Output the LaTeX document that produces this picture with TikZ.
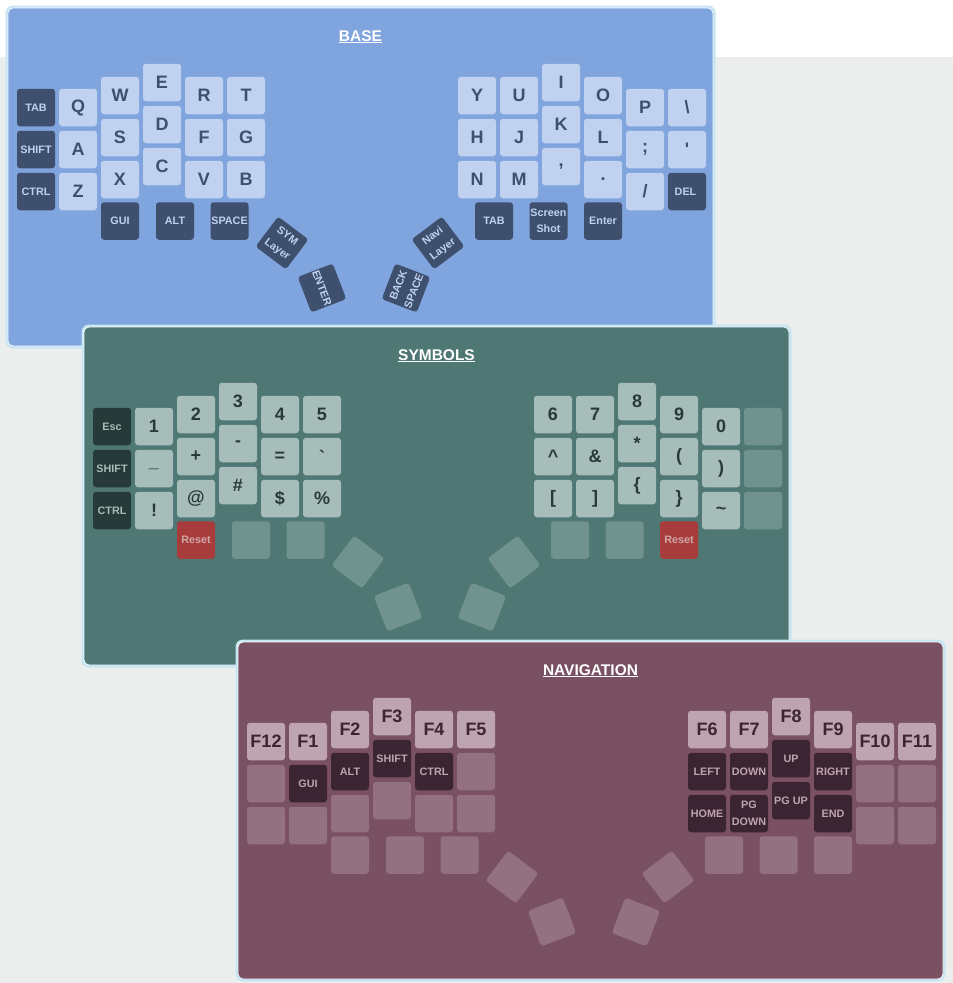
\documentclass[tikz,border=0pt]{standalone}
\usepackage{fontspec}
\setmainfont{Liberation Sans}
\usepackage{tikz}
\definecolor{pagegrey}{HTML}{ECEEED}
\definecolor{glowc}{HTML}{C6E6F3}
\definecolor{basebg}{HTML}{80A4DD}
\definecolor{baselight}{HTML}{C0D2EF}
\definecolor{basedark}{HTML}{3F506E}
\definecolor{symbg}{HTML}{4F7874}
\definecolor{symlight}{HTML}{A6BDBA}
\definecolor{symdark}{HTML}{263B39}
\definecolor{symblank}{HTML}{71938F}
\definecolor{symreset}{HTML}{A83C3C}
\definecolor{symresettext}{HTML}{CFA7A6}
\definecolor{navbg}{HTML}{7A5063}
\definecolor{navlight}{HTML}{BEA4B0}
\definecolor{navdark}{HTML}{3C2532}
\definecolor{navblank}{HTML}{94717F}

\tikzset{
  key/.style={rectangle, rounded corners=3pt, minimum width=38pt, minimum height=37.5pt, inner sep=0pt, align=center},
  big/.style={font=\fontsize{18}{18}\selectfont\bfseries},
  small/.style={font=\fontsize{10.8}{16.5}\selectfont\bfseries},
  glow/.style={draw=glowc, line width=3pt, rounded corners=6pt},
  panel/.style={draw=white!80!glowc, line width=0.8pt, rounded corners=5pt},
  title/.style={anchor=base, text=white, font=\fontsize{15.5}{16}\selectfont\bfseries}
}

\begin{document}
\begin{tikzpicture}[x=1pt, y=-1pt]
    \useasboundingbox (0,0) rectangle (953,983);
    \fill[white] (0,0) rectangle (953,983);
    \fill[pagegrey] (0,57) rectangle (953,983);

    % base layer
    \begin{scope}[shift={(8,8)},
        lk/.style={key, big, fill=baselight, text=basedark},
        dk/.style={key, small, fill=basedark, text=baselight}]
        \draw[glow] (-1,-1) rectangle (706,339);
        \draw[panel, fill=basebg] (0,0) rectangle (705,338);
        \node[title] (base-title) at (352.5,33) {\underline{BASE}};

        \foreach \x/\y/\sa/\ta/\sb/\tb/\sc/\tc [count=\i] in {
            28/99.5/dk/TAB/dk/SHIFT/dk/CTRL,
            70/99.5/lk/Q/lk/A/lk/Z,
            112/87.5/lk/W/lk/S/lk/X,
            154/74.5/lk/E/lk/D/lk/C,
            196/87.5/lk/R/lk/F/lk/V,
            238/87.5/lk/T/lk/G/lk/B,
            469/87.5/lk/Y/lk/H/lk/N,
            511/87.5/lk/U/lk/J/lk/M,
            553/74.5/lk/I/lk/K/lk/{,},
            595/87.5/lk/O/lk/L/lk/.,
            637/99.5/lk/P/lk/;/lk/{/},
            679/99.5/lk/\textbackslash/lk/\textquotesingle/dk/DEL
        } {
            \node[\sa] (base-c\i-1) at (\x,\y) {\ta};
            \node[\sb] (base-c\i-2) at (\x,\y+42) {\tb};
            \node[\sc] (base-c\i-3) at (\x,\y+84) {\tc};
        };

        \foreach \x/\y/\r/\tag [count=\i] in {
            112/213/0/GUI,
            167/213/0/ALT,
            221.5/213/0/SPACE,
            274/235/-37/SYM\\Layer,
            314/280/-69/ENTER,
            486/213/0/TAB,
            540.5/213/0/Screen\\Shot,
            595/213/0/Enter,
            430/235/37/Navi\\Layer,
            398/280/69/BACK\\SPACE
        } {
            \node[dk, rotate=\r] (base-t\i) at (\x,\y) {\tag};
        };
    \end{scope}

    % symbols layer
    \begin{scope}[shift={(84,327)},
        lk/.style={key, big, fill=symlight, text=symdark},
        dk/.style={key, small, fill=symdark, text=symlight},
        bk/.style={key, fill=symblank},
        rk/.style={key, small, fill=symreset, text=symresettext}]
        \draw[glow] (-1,-1) rectangle (706,339);
        \draw[panel, fill=symbg] (0,0) rectangle (705,338);
        \node[title] (sym-title) at (352.5,33) {\underline{SYMBOLS}};

        \foreach \x/\y/\sa/\ta/\sb/\tb/\sc/\tc [count=\i] in {
            28/99.5/dk/Esc/dk/SHIFT/dk/CTRL,
            70/99.5/lk/1/lk/\textunderscore/lk/!,
            112/87.5/lk/2/lk/+/lk/@,
            154/74.5/lk/3/lk/-/lk/\#,
            196/87.5/lk/4/lk/=/lk/\$,
            238/87.5/lk/5/lk/\textasciigrave/lk/\%,
            469/87.5/lk/6/lk/\textasciicircum/lk/{[},
            511/87.5/lk/7/lk/\&/lk/{]},
            553/74.5/lk/8/lk/*/lk/\{,
            595/87.5/lk/9/lk/(/lk/\},
            637/99.5/lk/0/lk/)/lk/\textasciitilde,
            679/99.5/bk/{}/bk/{}/bk/{}
        } {
            \node[\sa] (sym-c\i-1) at (\x,\y) {\ta};
            \node[\sb] (sym-c\i-2) at (\x,\y+42) {\tb};
            \node[\sc] (sym-c\i-3) at (\x,\y+84) {\tc};
        };

        \foreach \x/\y/\r/\s/\tag [count=\i] in {
            112/213/0/rk/Reset,
            167/213/0/bk/{},
            221.5/213/0/bk/{},
            274/235/-37/bk/{},
            314/280/-69/bk/{},
            486/213/0/bk/{},
            540.5/213/0/bk/{},
            595/213/0/rk/Reset,
            430/235/37/bk/{},
            398/280/69/bk/{}
        } {
            \node[\s, rotate=\r] (sym-t\i) at (\x,\y) {\tag};
        };
    \end{scope}

    % navigation layer
    \begin{scope}[shift={(238,642)},
        lk/.style={key, big, fill=navlight, text=navdark},
        dk/.style={key, small, fill=navdark, text=navlight},
        bk/.style={key, fill=navblank}]
        \draw[glow] (-1,-1) rectangle (706,338);
        \draw[panel, fill=navbg] (0,0) rectangle (705,337);
        \node[title] (nav-title) at (352.5,33) {\underline{NAVIGATION}};

        \foreach \x/\y/\sa/\ta/\sb/\tb/\sc/\tc [count=\i] in {
            28/99.5/lk/F12/bk/{}/bk/{},
            70/99.5/lk/F1/dk/GUI/bk/{},
            112/87.5/lk/F2/dk/ALT/bk/{},
            154/74.5/lk/F3/dk/SHIFT/bk/{},
            196/87.5/lk/F4/dk/CTRL/bk/{},
            238/87.5/lk/F5/bk/{}/bk/{},
            469/87.5/lk/F6/dk/LEFT/dk/HOME,
            511/87.5/lk/F7/dk/DOWN/dk/PG\\DOWN,
            553/74.5/lk/F8/dk/UP/dk/PG UP,
            595/87.5/lk/F9/dk/RIGHT/dk/END,
            637/99.5/lk/F10/bk/{}/bk/{},
            679/99.5/lk/F11/bk/{}/bk/{}
        } {
            \node[\sa] (nav-c\i-1) at (\x,\y) {\ta};
            \node[\sb] (nav-c\i-2) at (\x,\y+42) {\tb};
            \node[\sc] (nav-c\i-3) at (\x,\y+84) {\tc};
        };

        \foreach \x/\y/\r [count=\i] in {
            112/213/0, 167/213/0, 221.5/213/0, 274/235/-37, 314/280/-69,
            486/213/0, 540.5/213/0, 595/213/0, 430/235/37, 398/280/69
        } {
            \node[bk, rotate=\r] (nav-t\i) at (\x,\y) {};
        };
    \end{scope}
\end{tikzpicture}
\end{document}
